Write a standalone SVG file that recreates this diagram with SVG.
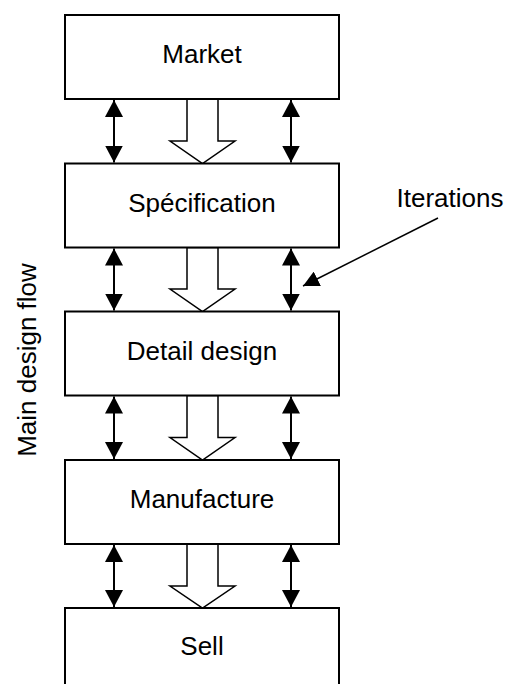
<svg xmlns="http://www.w3.org/2000/svg" width="508" height="684" viewBox="0 0 508 684">
<style>
.box{fill:#fff;stroke:#000;stroke-width:2}
.lbl{font-family:"Liberation Sans",Arial,sans-serif;font-size:26px;fill:#000;text-anchor:middle}
.dbl{stroke:#000;stroke-width:2;fill:none;marker-start:url(#ah);marker-end:url(#ah)}
.blk{fill:#fff;stroke:#000;stroke-width:1.5;stroke-linejoin:miter}
</style>
<defs>
<marker id="ah" markerUnits="userSpaceOnUse" markerWidth="18" markerHeight="18" refX="17" refY="9" orient="auto-start-reverse" viewBox="0 0 18 18">
<path d="M0,0 L17,9 L0,18 z" fill="#000"/>
</marker>
<marker id="ah2" markerUnits="userSpaceOnUse" markerWidth="17" markerHeight="16" refX="16" refY="8" orient="auto" viewBox="0 0 17 16">
<path d="M0,0 L16,8 L0,16 z" fill="#000"/>
</marker>
</defs>
<g id="connectors">
<line class="dbl" x1="114" y1="100" x2="114" y2="162.5"/>
<line class="dbl" x1="291" y1="100" x2="291" y2="162.5"/>
<polygon class="blk" points="187,99 218,99 218,141 235,141 202.5,163.5 170,141 187,141"/>
<line class="dbl" x1="114" y1="248.5" x2="114" y2="310.5"/>
<line class="dbl" x1="291" y1="248.5" x2="291" y2="310.5"/>
<polygon class="blk" points="187,247.5 218,247.5 218,289 235,289 202.5,311.5 170,289 187,289"/>
<line class="dbl" x1="114" y1="396.5" x2="114" y2="459"/>
<line class="dbl" x1="291" y1="396.5" x2="291" y2="459"/>
<polygon class="blk" points="187,395.5 218,395.5 218,437.5 235,437.5 202.5,460 170,437.5 187,437.5"/>
<line class="dbl" x1="114" y1="545" x2="114" y2="607"/>
<line class="dbl" x1="291" y1="545" x2="291" y2="607"/>
<polygon class="blk" points="187,544 218,544 218,586 235,586 202.5,608 170,586 187,586"/>
<line x1="438" y1="218" x2="303" y2="286" stroke="#000" stroke-width="1.5" marker-end="url(#ah2)"/>
</g>
<g id="market"><rect class="box" x="65" y="15" width="274" height="84"/><text class="lbl" x="202" y="63">Market</text></g>
<g id="specification"><rect class="box" x="65" y="163.5" width="274" height="84"/><text class="lbl" x="202" y="211.5">Spécification</text></g>
<g id="detail"><rect class="box" x="65" y="311.5" width="274" height="84"/><text class="lbl" x="202" y="359.5">Detail design</text></g>
<g id="manufacture"><rect class="box" x="65" y="460" width="274" height="84"/><text class="lbl" x="202" y="508">Manufacture</text></g>
<g id="sell"><rect class="box" x="65" y="608" width="274" height="100"/><text class="lbl" x="202" y="655">Sell</text></g>
<g id="iterations"><text class="lbl" x="450" y="207">Iterations</text></g>
<g id="flow"><text class="lbl" transform="translate(36,360) rotate(-90)">Main design flow</text></g>
</svg>
